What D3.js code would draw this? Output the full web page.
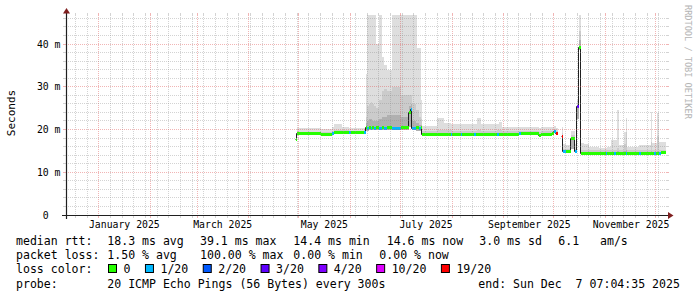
<!DOCTYPE html>
<html>
<head>
<meta charset="utf-8">
<script src="https://cdn.jsdelivr.net/npm/d3@7"></script>
<style>
  body { margin: 0; background: #fff; }
  svg text { font-family: "DejaVu Sans Mono", monospace; white-space: pre; }
</style>
</head>
<body>
<div id="chart-area"></div>
<script>
// legend / axis text
var lossLabels = ["0", "1/20", "2/20", "3/20", "4/20", "10/20", "19/20"];
var lossColors = ["#26ff00", "#00b8ff", "#0059ff", "#5e00ff", "#7e00ff", "#dd00ff", "#ff0000"];
var yTicks = [0, 10, 20, 30, 40];
var labelMonths = ["2025-01-01", "2025-03-01", "2025-05-01", "2025-07-01", "2025-09-01", "2025-11-01"];
var rttStats = ["18.3 ms avg", "39.1 ms max", "14.4 ms min", "14.6 ms now", "3.0 ms sd", "6.1   am/s"];
var lossStats = ["1.50 % avg", "100.00 % max", "0.00 % min", "0.00 % now"];
var probeText = "20 ICMP Echo Pings (56 Bytes) every 300s";
var endText = "end: Sun Dec  7 07:04:35 2025";

// samples (each value holds until the next date), ms
var sampleDates = [
  "2025-04-29","2025-04-30","2025-05-07","2025-05-14","2025-05-21","2025-05-22","2025-05-27","2025-05-31","2025-06-01","2025-06-09",
  "2025-06-10","2025-06-11","2025-06-12","2025-06-13","2025-06-14","2025-06-15","2025-06-16","2025-06-18","2025-06-20","2025-06-21",
  "2025-06-23","2025-06-26","2025-07-01","2025-07-06","2025-07-07","2025-07-08","2025-07-10","2025-07-11","2025-07-12","2025-07-13",
  "2025-07-14","2025-07-23","2025-07-27","2025-07-31","2025-08-01","2025-08-06","2025-08-07","2025-08-14","2025-08-15","2025-08-16",
  "2025-08-18","2025-08-28","2025-08-29","2025-08-31","2025-09-10","2025-09-11","2025-09-22","2025-09-23","2025-09-30","2025-10-01",
  "2025-10-02T12:00Z","2025-10-03T12:00Z",
  "2025-10-06","2025-10-06T12:00Z","2025-10-08T12:00Z","2025-10-11T12:00Z","2025-10-13T12:00Z","2025-10-15","2025-10-16T06:00Z","2025-10-17T06:00Z",
  "2025-10-19","2025-10-22","2025-10-28","2025-11-01","2025-11-02","2025-11-04","2025-11-06","2025-11-07","2025-11-08","2025-11-09",
  "2025-11-12","2025-11-13","2025-11-14","2025-11-21","2025-11-22","2025-11-28","2025-11-29","2025-11-30","2025-12-01","2025-12-02",
  "2025-12-03","2025-12-04","2025-12-07T07:04:35Z"
];
var medianMs = [
  17.6, 19.0, 19.0, 18.9, 19.0, 19.2, 19.2, 19.2, 19.2, 19.3,
  20.5, 20.2, 20.5, 20.2, 20.5, 20.2, 20.5, 20.2, 20.5, 20.2,
  20.5, 20.2, 20.5, 23.9, 24.8, 20.2, 20.5, 20.4, 20.2, 20.4,
  18.9, 18.9, 18.9, 18.9, 18.9, 18.9, 18.9, 18.9, 18.9, 18.9,
  18.9, 18.9, 18.9, 18.9, 19.0, 19.0, 18.7, 18.9, 19.0, 19.5,
  19.0, null,
  18.3, 14.8, 14.8, 18.0, 14.8, 25.4, 39.1, 14.5,
  14.5, 14.5, 14.5, 14.5, 14.5, 14.5, 14.5, 14.5, 14.5, 14.5,
  14.5, 14.5, 14.5, 14.5, 14.5, 14.5, 14.5, 14.5, 14.5, 14.5,
  14.5, 14.6, 14.6
];
var lossIdx = [
  0, 0, 0, 0, 1, 0, 0, 1, 0, 1,
  0, 1, 0, 1, 0, 1, 0, 1, 0, 1,
  0, 1, 0, 0, 1, 1, 0, 0, 1, 0,
  0, 0, 0, 1, 0, 1, 0, 1, 0, 0,
  0, 1, 0, 0, 1, 0, 0, 0, 0, 1,
  6, null,
  6, 1, 0, 0, 1, 3, 0, 0,
  0, 0, 0, 1, 0, 0, 1, 0, 0, 0,
  0, 1, 0, 1, 0, 0, 0, 1, 0, 0,
  1, 0, 0
];
var smokeLoMs = [
  17.3, 18.7, 18.7, 18.6, 18.7, 18.9, 18.9, 18.9, 18.9, 19.0,
  19.7, 19.7, 19.8, 19.8, 19.8, 19.8, 19.8, 19.8, 19.8, 19.8,
  19.8, 19.8, 19.8, 20.5, 21.0, 19.8, 19.7, 19.7, 19.7, 19.7,
  18.6, 18.6, 18.6, 18.6, 18.6, 18.6, 18.6, 18.6, 18.6, 18.6,
  18.6, 18.6, 18.6, 18.6, 18.7, 18.7, 18.5, 18.6, 18.7, 19.1,
  18.7, null,
  16.0, 14.5, 14.5, 15.5, 14.5, 22.5, 38.5, 14.3,
  14.3, 14.3, 14.3, 14.3, 14.3, 14.3, 14.3, 14.3, 14.3, 14.3,
  14.3, 14.3, 14.3, 14.3, 14.3, 14.3, 14.3, 14.3, 14.3, 14.3,
  14.3, 14.3, 14.3
];
var smokeDarkMs = [
  17.8, 19.2, 19.2, 19.1, 19.3, 19.5, 19.5, 19.5, 19.5, 19.6,
  21.5, 22.0, 22.5, 22.5, 22.0, 22.0, 22.0, 22.5, 23.0, 23.0,
  23.5, 23.5, 23.0, 25.5, 26.0, 22.0, 21.5, 21.5, 21.0, 21.0,
  19.2, 19.3, 19.2, 19.2, 19.2, 19.2, 19.2, 19.2, 19.2, 19.2,
  19.2, 19.2, 19.2, 19.2, 19.3, 19.3, 19.0, 19.2, 19.3, 19.8,
  19.3, null,
  18.6, 15.1, 15.1, 18.3, 15.1, 25.5, 41.0, 14.8,
  14.8, 14.8, 14.8, 14.8, 14.8, 14.8, 14.8, 14.8, 14.9, 14.8,
  14.9, 15.2, 14.8, 14.8, 14.8, 15.0, 14.8, 14.8, 14.8, 15.0,
  14.8, 14.8, 14.8
];
var smokeMidMs = [
  18.1, 19.5, 19.5, 19.4, 19.7, 19.9, 19.8, 19.7, 19.7, 19.9,
  23.0, 25.5, 26.0, 26.5, 26.0, 25.5, 25.0, 27.0, 29.0, 29.5,
  29.0, 30.0, 28.0, 28.0, 28.0, 26.0, 24.5, 24.5, 23.0, 22.5,
  19.6, 20.0, 19.8, 19.8, 19.6, 19.7, 19.7, 19.7, 19.7, 19.9,
  19.7, 19.8, 19.8, 19.6, 19.6, 19.6, 19.4, 19.6, 19.6, 20.1,
  19.6, null,
  19.2, 15.5, 15.5, 18.8, 15.5, 26.2, 43.0, 15.2,
  15.2, 15.1, 15.1, 15.1, 15.1, 15.3, 15.3, 15.3, 15.6, 15.2,
  16.5, 19.5, 15.1, 15.1, 15.1, 17.0, 15.1, 15.1, 15.2, 18.5,
  15.2, 15.2, 15.2
];
var smokeHiMs = [
  18.5, 20.3, 20.4, 20.2, 20.6, 21.2, 20.7, 20.4, 20.3, 20.4,
  33.0, 48, 48, 48, 48, 48, 40.0, 48, 37.0, 35.0,
  34.0, 48, 48, 48, 48, 48, 48, 39.0, 39.0, 27.0,
  20.8, 22.7, 21.6, 21.2, 21.2, 21.2, 21.4, 21.4, 21.4, 22.7,
  21.2, 21.2, 21.7, 20.6, 20.6, 20.5, 20.4, 20.6, 20.6, 20.8,
  20.3, null,
  20.5, 16.6, 16.3, 19.6, 16.6, 27.0, 48, 16.8,
  16.6, 15.8, 15.6, 15.7, 16.0, 17.6, 17.6, 17.6, 24.6, 16.4,
  19.5, 22.7, 16.0, 16.4, 16.4, 24.1, 16.8, 16.8, 16.8, 23.9,
  17.0, 17.1, 17.1
];

var rows = sampleDates.map(function(d, i) {
  return {t: new Date(d), med: medianMs[i], loss: lossIdx[i], lo: smokeLoMs[i],
          dark: smokeDarkMs[i], mid: smokeMidMs[i], hi: smokeHiMs[i]};
});

var svg = d3.select("#chart-area").append("svg")
    .attr("width", 697)
    .attr("height", 297);
svg.append("rect").attr("width", 697).attr("height", 297).attr("fill", "#fff");

var start = new Date(Date.UTC(2024, 11, 12, 7, 4, 35));
var end = new Date(Date.UTC(2025, 11, 7, 7, 4, 35));

var x = d3.scaleUtc().domain([start, end]).range([66, 666]);
var y = d3.scaleLinear().domain([0, 46.8]).range([215, 15]);
var snap = function(v) { return Math.floor(v) + 0.5; };

// step points
var steps = [];
for (var i = 0; i < rows.length - 1; i++) {
  steps.push({t: rows[i].t, r: rows[i]});
  steps.push({t: rows[i + 1].t, r: rows[i]});
}
var ok = function(d) { return d.r.med != null; };

svg.append("clipPath").attr("id", "plot")
  .append("rect").attr("x", 66).attr("y", 15).attr("width", 600).attr("height", 200);
var g = svg.append("g").attr("clip-path", "url(#plot)");

// smoke
[["hi", "#dedede"], ["mid", "#cbcbcb"], ["dark", "#b0b0b0"]].forEach(function(l) {
  g.append("path")
    .datum(steps)
    .attr("fill", l[1])
    .attr("shape-rendering", "crispEdges")
    .attr("d", d3.area().defined(ok)
      .x(function(d) { return Math.round(x(d.t)); })
      .y0(function(d) { return y(d.r.lo); })
      .y1(function(d) { return y(d.r[l[0]]); }));
});

// median line
g.append("path")
  .datum(steps)
  .attr("fill", "none")
  .attr("stroke", "#202020")
  .attr("stroke-width", 1)
  .attr("d", d3.line().defined(ok)
    .x(function(d) { return Math.round(x(d.t)) - 0.5; })
    .y(function(d) { return snap(y(d.r.med)); }));

// loss-coloured median band
var bands = rows.slice(0, -1).map(function(r, i) { return {r: r, t1: rows[i + 1].t}; })
  .filter(function(d) { return d.r.med != null; });
g.selectAll("rect.band")
  .data(bands)
  .enter()
  .append("rect")
  .attr("class", "band")
  .attr("shape-rendering", "crispEdges")
  .attr("x", function(d) { return Math.round(x(d.r.t)); })
  .attr("width", function(d) { return Math.max(1, Math.round(x(d.t1)) - Math.round(x(d.r.t))); })
  .attr("y", function(d) { return Math.round(y(d.r.med) - 1.5); })
  .attr("height", 3)
  .attr("fill", function(d) { return lossColors[d.r.loss]; });

// grid
var minorCol = "rgba(140,140,140,0.38)", majorCol = "rgba(222,79,79,0.42)";
var grid = svg.append("g");
function vGrid(d, col) {
  var xx = snap(x(d));
  grid.append("line").attr("x1", xx).attr("x2", xx).attr("y1", 15).attr("y2", 215)
    .attr("stroke", col).attr("stroke-dasharray", "1,1");
  grid.append("line").attr("x1", xx).attr("x2", xx).attr("y1", 13).attr("y2", 15).attr("stroke", col);
  grid.append("line").attr("x1", xx).attr("x2", xx).attr("y1", 216).attr("y2", 218).attr("stroke", col);
}
function hGrid(v, col) {
  var yy = snap(y(v));
  grid.append("line").attr("x1", 66).attr("x2", 666).attr("y1", yy).attr("y2", yy)
    .attr("stroke", col).attr("stroke-dasharray", "1,1");
  grid.append("line").attr("x1", 63).attr("x2", 66).attr("y1", yy).attr("y2", yy).attr("stroke", col);
  grid.append("line").attr("x1", 666).attr("x2", 669).attr("y1", yy).attr("y2", yy).attr("stroke", col);
}
d3.utcWednesday.range(start, end)
  .filter(function(d) { return d.getUTCDate() !== 1; })
  .forEach(function(d) { vGrid(d, minorCol); });
d3.utcMonth.range(start, end).forEach(function(d) { vGrid(d, majorCol); });
d3.range(2, 47, 2).filter(function(v) { return v % 10 !== 0; })
  .forEach(function(v) { hGrid(v, minorCol); });
yTicks.filter(function(v) { return v > 0; }).forEach(function(v) { hGrid(v, majorCol); });

// axes lines + arrows
svg.append("line").attr("x1", 62).attr("x2", 670).attr("y1", 215.5).attr("y2", 215.5)
  .attr("stroke", "#1f1f1f").attr("stroke-width", 1.2);
svg.append("path").attr("d", "M668,212L668,219L673.5,215.5Z").attr("fill", "#7f1f1f");
svg.append("line").attr("x1", 66.5).attr("x2", 66.5).attr("y1", 219).attr("y2", 11)
  .attr("stroke", "#1f1f1f").attr("stroke-width", 1.2);
svg.append("path").attr("d", "M63,13.5L70,13.5L66.5,8Z").attr("fill", "#7f1f1f");

// tick labels
var yAxis = svg.append("g")
  .attr("transform", "translate(66.5,0)")
  .call(d3.axisLeft(y).tickValues(yTicks).tickSize(0).tickPadding(6)
    .tickFormat(function(v) { return v === 0 ? "0  " : v + " m"; }));
var labelParse = d3.utcParse("%Y-%m-%d");
var xAxis = svg.append("g")
  .attr("transform", "translate(0,215.5)")
  .call(d3.axisBottom(x)
    .tickValues(labelMonths.map(function(m) { return d3.utcDay.offset(labelParse(m), 15); }))
    .tickSize(0).tickPadding(5.5)
    .tickFormat(function(d) { return d3.utcFormat("%B %Y")(d3.utcMonth.floor(d)); }));
[yAxis, xAxis].forEach(function(a) {
  a.select(".domain").remove();
  a.selectAll("text")
    .attr("font-family", "DejaVu Sans Mono")
    .attr("font-size", "9.8px")
    .attr("fill", "#000");
});

svg.append("text")
  .attr("transform", "translate(15,113) rotate(-90)")
  .attr("text-anchor", "middle")
  .attr("font-size", "11px")
  .text("Seconds");

svg.append("text")
  .attr("transform", "translate(684.5,5) rotate(90)")
  .attr("font-size", "8.6px")
  .attr("fill", "#b4b4b4")
  .text("RRDTOOL / TOBI OETIKER");

// legend
var fs = "11.55px", cw = 6.95;
var rowY = [245, 259.3, 273.4, 287.5];
function put(txt, xx, yy) {
  svg.append("text").attr("x", xx).attr("y", yy).attr("font-size", fs).attr("fill", "#000").text(txt);
}
put("median rtt:", 16, rowY[0]);
[107.3, 200, 293.3, 386.7, 479.3, 558.3].forEach(function(xx, i) { put(rttStats[i], xx, rowY[0]); });
put("packet loss:", 16, rowY[1]);
[107.3, 200, 293.3, 379.3].forEach(function(xx, i) { put(lossStats[i], xx, rowY[1]); });
put("loss color:", 16, rowY[2]);
var bx = 108.5;
lossLabels.forEach(function(lbl, i) {
  svg.append("rect").attr("x", bx).attr("y", 264.5).attr("width", 8).attr("height", 8)
    .attr("fill", lossColors[i]).attr("stroke", "#000").attr("stroke-width", 1);
  put(lbl, bx + 15, rowY[2]);
  bx = bx + 15 + lbl.length * cw + 15;
});
put("probe:", 16, rowY[3]);
put(probeText, 107.3, rowY[3]);
put(endText, 478.3, rowY[3]);
</script>
</body>
</html>
